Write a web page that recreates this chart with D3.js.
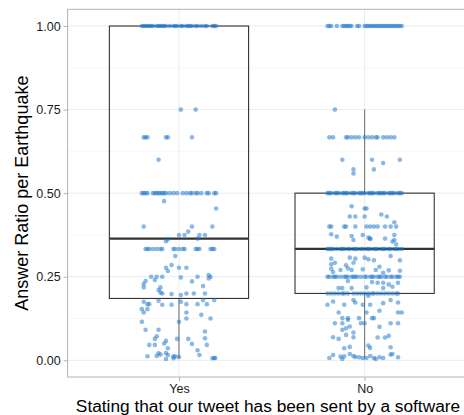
<!DOCTYPE html>
<html>
<head>
<meta charset="utf-8">
<script src="https://cdn.jsdelivr.net/npm/d3@7"></script>
<style>
  body { margin: 0; background: #fff; }
  svg { display: block; font-family: "Liberation Sans", Arial, sans-serif; }
</style>
</head>
<body>
<svg id="chart"></svg>
<script>
// categories and box statistics
const categories = ['Yes', 'No']
const boxLow = [0.005, 0.004]
const boxQ1 = [0.185, 0.2]
const boxMedian = [0.364, 0.333]
const boxQ3 = [1.0, 0.5]
const boxHigh = [1.0, 0.75]
const yTicks = [0, 0.25, 0.5, 0.75, 1]
const yMinor = [0.125, 0.375, 0.625, 0.875]

// jittered points: [value, horizontal jitter as a fraction of the category step]
const yesPoints = [
  [1,-0.20],[1,-0.19],[1,-0.18],[1,-0.17],[1,-0.16],[1,-0.15],[1,-0.14],[1,-0.12],[1,-0.11],[1,-0.10],
  [1,-0.09],[1,-0.08],[1,-0.07],[1,-0.05],[1,-0.03],[1,-0.02],[1,-0.01],[1,0.01],[1,0.02],[1,0.04],
  [1,0.05],[1,0.06],[1,0.07],[1,0.09],[1,0.10],[1,0.12],[1,0.14],[1,0.15],[1,0.18],[1,0.19],[1,0.20],
  [0.75,0.01],[0.75,0.09],
  [0.667,-0.19],[0.667,-0.18],[0.667,-0.17],[0.667,-0.07],[0.667,-0.06],[0.667,0.07],
  [0.6,-0.11],
  [0.5,-0.20],[0.5,-0.19],[0.5,-0.18],[0.5,-0.17],[0.5,-0.14],[0.5,-0.13],[0.5,-0.12],[0.5,-0.11],
  [0.5,-0.10],[0.5,-0.09],[0.5,-0.08],[0.5,-0.07],[0.5,-0.05],[0.5,-0.03],[0.5,-0.01],[0.5,0.02],
  [0.5,0.04],[0.5,0.06],[0.5,0.07],[0.5,0.09],[0.5,0.10],[0.5,0.12],[0.5,0.15],[0.5,0.16],[0.5,0.19],[0.5,0.20],
  [0.476,-0.08],[0.454,0.20],[0.4,-0.19],[0.4,0.07],[0.4,0.18],[0.385,0.05],
  [0.375,0.00],[0.375,0.03],[0.375,0.11],[0.375,0.14],[0.364,0.10],[0.362,-0.06],[0.356,-0.07],
  [0.333,-0.18],[0.333,-0.17],[0.333,-0.16],[0.333,-0.14],[0.333,-0.12],[0.333,-0.10],[0.333,-0.09],
  [0.333,-0.03],[0.333,-0.02],[0.333,0.00],[0.333,0.02],[0.333,0.03],[0.333,0.09],[0.333,0.10],
  [0.333,0.11],[0.333,0.17],[0.333,0.18],[0.333,0.19],
  [0.312,-0.02],[0.285,-0.04],[0.277,-0.07],[0.277,0.00],[0.277,0.04],[0.267,-0.06],
  [0.25,-0.15],[0.25,-0.12],[0.25,-0.09],[0.25,0.10],[0.25,0.17],[0.248,0.01],[0.24,-0.13],
  [0.237,-0.18],[0.236,0.07],[0.255,0.16],[0.245,0.16],
  [0.228,-0.19],[0.218,-0.19],[0.222,0.13],[0.218,-0.10],[0.21,-0.11],[0.203,-0.10],[0.2,-0.09],
  [0.198,-0.04],[0.195,0.01],[0.2,0.04],[0.2,0.08],[0.2,0.14],
  [0.175,-0.19],[0.168,-0.17],[0.168,-0.16],[0.178,-0.11],[0.166,-0.09],[0.166,-0.04],[0.175,0.01],
  [0.168,0.04],[0.168,0.10],[0.18,0.13],[0.168,0.15],[0.18,0.19],
  [0.153,-0.20],[0.153,-0.17],[0.143,-0.19],[0.143,0.04],[0.125,0.04],[0.125,0.17],[0.136,0.12],
  [0.115,-0.20],[0.115,0.00],[0.091,-0.18],[0.091,-0.11],[0.086,0.14],
  [0.072,-0.12],[0.064,-0.13],[0.064,-0.01],[0.064,0.05],[0.058,-0.07],[0.05,-0.08],[0.066,0.14],
  [0.049,0.07],[0.046,-0.16],[0.046,-0.13],[0.046,0.15],[0.036,-0.06],[0.03,0.10],
  [0.021,-0.11],[0.022,-0.07],[0.017,-0.10],[0.016,-0.06],[0.012,-0.03],[0.012,-0.17],[0.013,-0.12],
  [0.011,-0.02],[0.01,0.00],[0.016,0.11],[0.007,0.19],[0.007,0.195],[0.004,-0.07],[0.006,-0.03],
  [0.006,0.18]
]

const noPoints = [
  [1,-0.20],[1,-0.19],[1,-0.18],[1,-0.15],[1,-0.12],[1,-0.11],[1,-0.10],[1,-0.09],[1,-0.08],[1,-0.07],
  [1,-0.04],[1,-0.03],[1,0.00],[1,0.01],[1,0.02],[1,0.03],[1,0.04],[1,0.05],[1,0.06],[1,0.07],
  [1,0.08],[1,0.09],[1,0.10],[1,0.11],[1,0.12],[1,0.13],[1,0.14],[1,0.15],[1,0.16],[1,0.17],
  [1,0.18],[1,0.19],[1,0.20],
  [0.75,-0.16],
  [0.667,-0.19],[0.667,-0.17],[0.667,-0.10],[0.667,-0.09],[0.667,-0.07],[0.667,-0.05],[0.667,-0.03],
  [0.667,0.00],[0.667,0.02],[0.667,0.04],[0.667,0.06],[0.667,0.07],[0.667,0.10],[0.667,0.12],
  [0.667,0.14],[0.667,0.16],
  [0.6,-0.12],[0.6,0.04],[0.6,0.19],[0.59,0.10],[0.571,-0.06],[0.571,0.05],[0.559,-0.06],
  [0.5,-0.20],[0.5,-0.19],[0.5,-0.18],[0.5,-0.16],[0.5,-0.15],[0.5,-0.14],[0.5,-0.12],[0.5,-0.11],
  [0.5,-0.10],[0.5,-0.09],[0.5,-0.07],[0.5,-0.06],[0.5,-0.05],[0.5,-0.03],[0.5,-0.02],[0.5,-0.01],
  [0.5,0.00],[0.5,0.02],[0.5,0.03],[0.5,0.04],[0.5,0.05],[0.5,0.07],[0.5,0.08],[0.5,0.09],
  [0.5,0.10],[0.5,0.11],[0.5,0.13],[0.5,0.14],[0.5,0.15],[0.5,0.16],[0.5,0.18],[0.5,0.19],[0.5,0.20],
  [0.461,-0.07],[0.454,0.00],[0.454,0.01],[0.43,-0.08],[0.43,-0.05],[0.43,0.00],[0.436,0.09],
  [0.43,0.12],[0.413,0.16],
  [0.4,-0.19],[0.4,-0.18],[0.4,-0.11],[0.4,-0.10],[0.4,-0.05],[0.4,0.01],[0.4,0.03],[0.4,0.05],
  [0.4,0.07],[0.4,0.11],[0.4,0.14],[0.4,0.17],
  [0.377,-0.18],[0.37,-0.15],[0.372,-0.07],[0.375,-0.01],[0.367,0.02],[0.362,0.03],[0.364,0.11],
  [0.375,0.16],[0.355,0.15],[0.347,0.17],[0.36,-0.06],[0.365,0.03],[0.36,0.16],
  [0.333,-0.20],[0.333,-0.19],[0.333,-0.18],[0.333,-0.17],[0.333,-0.15],[0.333,-0.13],[0.333,-0.12],
  [0.333,-0.11],[0.333,-0.09],[0.333,-0.08],[0.333,-0.06],[0.333,-0.05],[0.333,-0.04],[0.333,-0.02],
  [0.333,-0.01],[0.333,0.01],[0.333,0.02],[0.333,0.03],[0.333,0.05],[0.333,0.06],[0.333,0.07],
  [0.333,0.09],[0.333,0.10],[0.333,0.11],[0.333,0.13],[0.333,0.14],[0.333,0.16],[0.333,0.17],
  [0.333,0.18],[0.333,0.20],
  [0.304,-0.18],[0.292,-0.16],[0.307,-0.08],[0.304,-0.05],[0.292,-0.06],[0.307,0.00],[0.302,0.02],
  [0.299,0.05],[0.312,0.14],[0.299,0.19],[0.287,-0.18],[0.284,-0.10],[0.275,-0.09],[0.27,-0.07],
  [0.274,-0.18],[0.264,-0.17],[0.27,-0.13],[0.272,-0.01],[0.27,0.06],[0.28,0.08],[0.262,0.10],
  [0.269,0.13],[0.268,0.19],
  [0.25,-0.20],[0.25,-0.19],[0.25,-0.17],[0.25,-0.16],[0.25,-0.15],[0.25,-0.13],[0.25,-0.11],
  [0.25,-0.10],[0.25,-0.09],[0.25,-0.07],[0.25,-0.06],[0.25,-0.05],[0.25,-0.04],[0.25,-0.02],
  [0.25,0.00],[0.25,0.01],[0.25,0.03],[0.25,0.04],[0.25,0.05],[0.25,0.07],[0.25,0.08],[0.25,0.09],
  [0.25,0.11],[0.25,0.12],[0.25,0.14],[0.25,0.15],[0.25,0.17],[0.25,0.18],[0.25,0.19],
  [0.237,-0.09],[0.216,-0.14],[0.216,-0.12],[0.216,-0.07],[0.218,0.01],[0.216,0.10],[0.22,0.15],
  [0.234,0.04],[0.232,0.07],[0.232,0.10],[0.232,0.18],[0.227,0.13],
  [0.2,-0.20],[0.2,-0.18],[0.2,-0.16],[0.2,-0.14],[0.2,-0.12],[0.2,-0.11],[0.2,-0.09],[0.2,-0.06],
  [0.2,-0.04],[0.2,-0.02],[0.2,0.00],[0.2,0.02],[0.2,0.04],[0.2,0.05],[0.2,0.07],[0.2,0.09],
  [0.2,0.11],[0.2,0.13],[0.2,0.15],[0.2,0.17],[0.2,0.18],
  [0.176,-0.17],[0.166,-0.20],[0.166,-0.11],[0.18,-0.06],[0.173,-0.05],[0.166,-0.01],[0.193,0.02],
  [0.166,0.03],[0.171,0.10],[0.18,0.14],[0.173,0.18],
  [0.143,-0.14],[0.126,-0.09],[0.121,-0.09],[0.126,-0.12],[0.126,-0.03],[0.143,0.01],[0.126,0.04],
  [0.126,0.05],[0.148,0.08],[0.143,0.18],[0.143,0.20],
  [0.111,-0.16],[0.111,-0.02],[0.111,0.00],[0.111,0.14],[0.111,0.18],[0.111,-0.12],
  [0.101,-0.08],[0.091,-0.12],[0.096,-0.10],[0.1,0.08],[0.083,-0.06],[0.076,-0.10],[0.073,0.13],
  [0.069,-0.06],[0.069,-0.17],[0.064,-0.14],[0.068,0.07],[0.068,0.11],
  [0.039,0.14],[0.036,-0.11],[0.04,-0.08],[0.044,0.02],[0.037,0.03],
  [0.016,-0.17],[0.007,-0.19],[0.011,-0.13],[0.004,-0.12],[0.019,-0.08],[0.013,-0.06],[0.01,-0.05],
  [0.009,-0.03],[0.007,-0.01],[0.007,0.01],[0.013,0.03],[0.007,0.05],[0.009,0.08],[0.007,0.10],
  [0.017,0.14],[0.019,0.15],[0.009,0.18],[0.012,-0.11],[0.004,0.06]
]

const groups = [yesPoints, noPoints]

const width = 464
const height = 415
const margin = { top: 9.3, right: -12, bottom: 38, left: 67.6 }

const svg = d3.select('#chart')
  .attr('width', width)
  .attr('height', height)

const x = d3.scalePoint()
  .domain(categories)
  .range([margin.left, width - margin.right])
  .padding(0.6)

const y = d3.scaleLinear()
  .domain([-0.05, 1.05])
  .range([height - margin.bottom, margin.top])

const step = x.step()
const boxWidth = step * 0.75

// Panel grid
const grid = svg.append('g')
grid.selectAll('.minor')
  .data(yMinor)
  .enter().append('line')
    .attr('x1', margin.left).attr('x2', width - margin.right)
    .attr('y1', d => y(d)).attr('y2', d => y(d))
    .attr('stroke', '#f2f2f2').attr('stroke-width', 0.6)
grid.selectAll('.major')
  .data(yTicks)
  .enter().append('line')
    .attr('x1', margin.left).attr('x2', width - margin.right)
    .attr('y1', d => y(d)).attr('y2', d => y(d))
    .attr('stroke', '#ebebeb').attr('stroke-width', 1)
grid.selectAll('.vmajor')
  .data(categories)
  .enter().append('line')
    .attr('x1', d => x(d)).attr('x2', d => x(d))
    .attr('y1', margin.top).attr('y2', height - margin.bottom)
    .attr('stroke', '#ebebeb').attr('stroke-width', 1)

// Boxes (whiskers, box, median)
const boxes = svg.append('g')
categories.forEach((cat, i) => {
  const cx = x(cat)
  boxes.append('line')
    .attr('x1', cx).attr('x2', cx)
    .attr('y1', y(boxQ3[i])).attr('y2', y(boxHigh[i]))
    .attr('stroke', '#777').attr('stroke-width', 1.1)
  boxes.append('line')
    .attr('x1', cx).attr('x2', cx)
    .attr('y1', y(boxQ1[i])).attr('y2', y(boxLow[i]))
    .attr('stroke', '#777').attr('stroke-width', 1.1)
  boxes.append('rect')
    .attr('x', cx - boxWidth / 2)
    .attr('width', boxWidth)
    .attr('y', y(boxQ3[i]))
    .attr('height', y(boxQ1[i]) - y(boxQ3[i]))
    .attr('fill', 'none')
    .attr('stroke', '#333')
    .attr('stroke-width', 1.1)
  boxes.append('line')
    .attr('x1', cx - boxWidth / 2).attr('x2', cx + boxWidth / 2)
    .attr('y1', y(boxMedian[i])).attr('y2', y(boxMedian[i]))
    .attr('stroke', '#333').attr('stroke-width', 2.2)
})

// Jittered points
categories.forEach((cat, i) => {
  svg.append('g')
    .selectAll('circle')
    .data(groups[i])
    .enter().append('circle')
      .attr('cx', d => x(cat) + d[1] * step)
      .attr('cy', d => y(d[0]))
      .attr('r', 2.3)
      .attr('fill', '#1874cd')
      .attr('fill-opacity', 0.5)
})

// Panel border
svg.append('rect')
  .attr('x', margin.left)
  .attr('y', margin.top)
  .attr('width', width - margin.right - margin.left)
  .attr('height', height - margin.bottom - margin.top)
  .attr('fill', 'none')
  .attr('stroke', '#b3b3b3')
  .attr('stroke-width', 1)

// Axes
const yAxis = svg.append('g')
  .attr('transform', `translate(${margin.left}, 0)`)
  .call(d3.axisLeft(y).tickValues(yTicks).tickFormat(d3.format('.2f')).tickSize(4).tickPadding(3))
yAxis.select('.domain').remove()
yAxis.selectAll('line').attr('stroke', '#b3b3b3')
yAxis.selectAll('text').attr('fill', '#1a1a1a').style('font-size', '12.5px')

const xAxis = svg.append('g')
  .attr('transform', `translate(0, ${height - margin.bottom})`)
  .call(d3.axisBottom(x).tickSize(4).tickPadding(3))
xAxis.select('.domain').remove()
xAxis.selectAll('line').attr('stroke', '#b3b3b3')
xAxis.selectAll('text').attr('fill', '#1a1a1a').style('font-size', '12.5px')

// Axis titles
svg.append('text')
  .attr('x', 268)
  .attr('y', 412)
  .attr('text-anchor', 'middle')
  .style('font-size', '17.3px')
  .attr('fill', '#000')
  .text('Stating that our tweet has been sent by a software')

svg.append('text')
  .attr('transform', `translate(28, ${y(0.5)}) rotate(-90)`)
  .attr('text-anchor', 'middle')
  .style('font-size', '18px')
  .attr('fill', '#000')
  .text('Answer Ratio per Earthquake')
</script>
</body>
</html>
